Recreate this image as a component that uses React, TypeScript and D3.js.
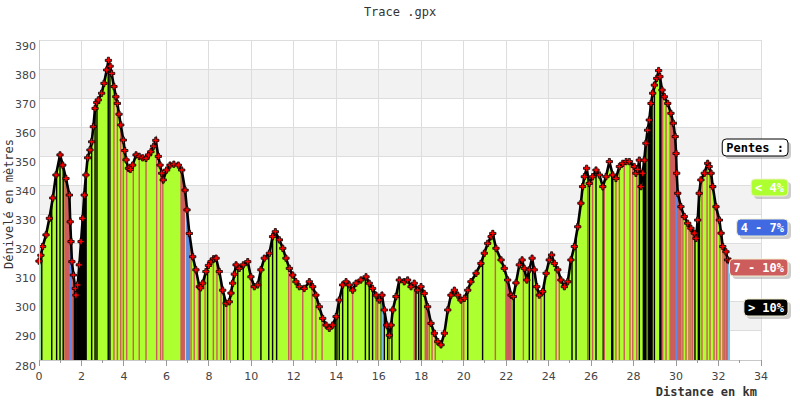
import React, { useEffect, useRef } from 'react';
import * as d3 from 'd3';

const KM = [
  0.0, 0.09, 0.17, 0.33, 0.49, 0.65, 0.8, 0.99, 1.12, 1.27, 1.43, 1.47, 1.51, 1.55, 1.62, 1.71,
  1.74, 1.82, 1.9, 1.98, 2.06, 2.13, 2.21, 2.29, 2.4, 2.48, 2.56, 2.64, 2.72, 2.79, 2.95, 3.06,
  3.19, 3.27, 3.35, 3.42, 3.53, 3.62, 3.69, 3.77, 3.85, 3.97, 4.04, 4.1, 4.21, 4.3, 4.41, 4.57,
  4.72, 4.88, 5.04, 5.16, 5.27, 5.4, 5.5, 5.62, 5.7, 5.78, 5.85, 6.01, 6.17, 6.35, 6.56, 6.72,
  6.88, 6.97, 7.08, 7.24, 7.39, 7.55, 7.61, 7.71, 7.86, 7.98, 8.1, 8.22, 8.34, 8.49, 8.65, 8.81,
  8.96, 9.04, 9.12, 9.2, 9.28, 9.43, 9.62, 9.83, 9.98, 10.14, 10.3, 10.45, 10.61, 10.85, 11.0, 11.13,
  11.32, 11.48, 11.63, 11.79, 11.95, 12.1, 12.26, 12.49, 12.73, 12.89, 13.04, 13.2, 13.36, 13.52, 13.67, 13.83,
  13.99, 14.14, 14.3, 14.46, 14.61, 14.77, 14.93, 15.16, 15.4, 15.55, 15.71, 15.87, 16.03, 16.15, 16.26, 16.38,
  16.5, 16.58, 16.66, 16.81, 16.97, 17.2, 17.36, 17.52, 17.67, 17.83, 17.99, 18.14, 18.3, 18.46, 18.62, 18.78,
  18.93, 19.09, 19.25, 19.4, 19.56, 19.72, 19.87, 20.03, 20.19, 20.34, 20.58, 20.81, 20.97, 21.13, 21.29, 21.37,
  21.52, 21.76, 21.91, 22.07, 22.23, 22.34, 22.46, 22.62, 22.75, 22.85, 22.97, 23.09, 23.22, 23.32, 23.44, 23.56,
  23.72, 23.88, 24.03, 24.14, 24.27, 24.43, 24.58, 24.74, 24.9, 25.05, 25.21, 25.37, 25.52, 25.6, 25.68, 25.79,
  25.91, 26.07, 26.23, 26.39, 26.55, 26.7, 26.86, 27.02, 27.17, 27.33, 27.49, 27.65, 27.8, 28.03, 28.11, 28.19,
  28.27, 28.35, 28.43, 28.5, 28.58, 28.66, 28.74, 28.82, 28.9, 28.98, 29.09, 29.18, 29.24, 29.34, 29.45, 29.61,
  29.76, 29.87, 29.96, 30.0, 30.03, 30.08, 30.23, 30.39, 30.55, 30.7, 30.86, 30.94, 31.02, 31.09, 31.17, 31.33,
  31.49, 31.56, 31.65, 31.73, 31.88, 32.04, 32.12, 32.2, 32.35, 32.43, 32.54,
];

const ELEV = [
  314, 316, 319, 323, 328.7, 335.7, 343.6, 350.5, 347, 342.4, 336.7, 327.5, 320.7, 313.8, 309.2, 304.6,
  302.3, 305.8, 312.7, 320.7, 328.7, 336.7, 343.6, 349.5, 352.2, 355, 360.2, 366.5, 368.5, 369.4, 371.7, 375.1,
  379.7, 383, 381, 378.5, 374, 370.5, 368.2, 364.5, 360.8, 355.6, 352, 348.8, 345.9, 345.5, 347, 350.5,
  350, 349.5, 349.3, 350.5, 351.6, 353.5, 355.5, 350, 347, 344.2, 341.9, 345.3, 347, 347.3, 347, 345.3,
  338.4, 331.6, 323.5, 315.5, 311, 305.2, 304.8, 306.4, 310.4, 312.5, 313.8, 314.8, 315, 310.4, 304, 299.5,
  300, 303, 306.4, 309.5, 312.7, 311.5, 312.7, 313.8, 308.6, 305.2, 305.8, 311, 315, 316.7, 322.4, 324.1,
  321.3, 318.4, 315, 311.5, 309.2, 306.9, 305.2, 304.6, 306.9, 305.2, 302.3, 298.3, 294.3, 292, 290.9, 292,
  294.9, 300.6, 305.8, 306.9, 305.8, 304, 306.4, 307.5, 308.6, 306.4, 304.6, 302.3, 300.6, 302.3, 297.2, 292,
  288.5, 292, 297.2, 301.8, 307.5, 306.9, 307.5, 305.2, 306.4, 304, 305.2, 302.9, 298.3, 292.6, 289.2, 286.3,
  285.2, 289.2, 297.2, 302.3, 304, 302.3, 300.6, 301.2, 304, 306.9, 309.8, 313.2, 316.7, 320.1, 322.4, 323.5,
  318.4, 314.4, 311.5, 307.5, 302.3, 301.8, 306.5, 312.7, 314.4, 311.5, 307.5, 311, 315, 311, 305.2, 302.3,
  303.5, 309.8, 314.4, 316.1, 313.2, 311, 307.5, 305.2, 306.9, 314.4, 319, 325.8, 333.9, 339.6, 343, 345.9,
  340.7, 343, 345.3, 343.6, 339.6, 343, 348.2, 343.6, 342.4, 346.5, 347.6, 348.2, 348.2, 346.5, 344.2, 345.5,
  348.7, 339.6, 344.2, 348.7, 354.5, 359, 362.5, 368.2, 371.7, 374.5, 376.8, 379.5, 377.4, 372.8, 370.5, 368.2,
  364.8, 361.4, 356.8, 351, 344.2, 337.3, 332.7, 329.3, 327, 325.3, 323.6, 321.8, 328.1, 337.3, 341.9, 344.2,
  347.6, 346.5, 344.2, 339.6, 332.7, 328.1, 323.6, 319, 317.2, 314.4, 314,
];

// slope stripes: [start km, end km, category]
// g < 4%, b 4-7%, r 7-10%, k > 10%, l = light blue
const STRIPES: [number, number, string][] = [
  [0, 0.04, 'l'], [0.13, 0.13, 'k'], [0.6, 0.6, 'k'], [0.83, 0.83, 'k'], [0.99, 0.99, 'k'], [1.14, 1.14, 'k'],
  [1.22, 1.43, 'r'], [1.46, 1.54, 'b'], [1.59, 1.59, 'r'], [1.66, 1.74, 'k'], [1.78, 2.22, 'k'],
  [2.48, 2.48, 'k'], [2.64, 2.64, 'k'], [2.73, 2.73, 'k'], [3.26, 3.26, 'k'], [3.34, 3.34, 'k'],
  [3.53, 3.53, 'r'], [3.69, 3.69, 'r'], [3.85, 3.85, 'r'], [3.97, 3.97, 'r'], [4.13, 4.13, 'r'],
  [4.44, 4.44, 'r'], [4.72, 4.72, 'r'], [5.04, 5.04, 'r'], [5.54, 5.54, 'r'], [5.73, 5.73, 'r'],
  [5.83, 5.83, 'r'], [6.69, 6.84, 'r'], [6.96, 7.08, 'b'], [7.16, 7.16, 'r'], [7.31, 7.31, 'r'],
  [7.51, 7.51, 'r'], [7.58, 7.58, 'k'], [7.82, 7.82, 'r'], [7.94, 7.94, 'k'], [8.21, 8.21, 'r'],
  [8.38, 8.38, 'r'], [8.57, 8.57, 'r'], [8.7, 8.7, 'k'], [8.84, 8.84, 'r'], [8.99, 8.99, 'r'],
  [9.36, 9.36, 'k'], [9.62, 9.62, 'k'], [9.98, 9.98, 'r'], [10.45, 10.45, 'k'], [10.82, 10.82, 'k'],
  [11.0, 11.0, 'k'], [11.19, 11.19, 'k'], [11.76, 11.76, 'r'], [11.87, 11.87, 'r'], [12.42, 12.42, 'r'],
  [12.86, 12.86, 'r'], [13.04, 13.04, 'r'], [13.33, 13.33, 'r'], [13.95, 13.95, 'k'], [14.03, 14.03, 'k'],
  [14.14, 14.14, 'k'], [14.3, 14.3, 'k'], [14.54, 14.54, 'k'], [14.77, 14.77, 'r'], [15.37, 15.37, 'k'],
  [15.55, 15.55, 'k'], [15.71, 15.71, 'k'], [15.87, 15.87, 'r'], [15.95, 15.95, 'r'], [16.12, 16.12, 'k'],
  [16.15, 16.17, 'l'], [16.26, 16.26, 'k'], [16.42, 16.42, 'k'], [16.5, 16.5, 'r'], [16.62, 16.62, 'k'],
  [16.97, 16.97, 'k'], [17.67, 17.67, 'r'], [17.75, 17.75, 'k'], [17.88, 17.88, 'k'], [17.99, 17.99, 'k'],
  [18.19, 18.3, 'r'], [18.38, 18.38, 'r'], [18.51, 18.51, 'r'], [18.66, 18.66, 'r'], [19.91, 19.91, 'r'],
  [20.0, 20.0, 'r'], [20.19, 20.19, 'k'], [20.89, 20.89, 'k'], [21.49, 21.49, 'r'], [21.99, 22.23, 'r'],
  [22.34, 22.34, 'k'], [22.38, 22.38, 'k'], [22.81, 22.81, 'r'], [23.09, 23.09, 'k'], [23.25, 23.25, 'k'],
  [23.4, 23.4, 'r'], [23.64, 23.64, 'r'], [23.8, 23.8, 'k'], [24.35, 24.35, 'r'], [24.5, 24.5, 'r'],
  [25.1, 25.1, 'k'], [25.29, 25.29, 'k'], [25.84, 25.84, 'r'], [25.92, 25.92, 'k'], [26.07, 26.07, 'r'],
  [26.23, 26.23, 'k'], [26.57, 26.57, 'k'], [26.62, 26.62, 'r'], [26.97, 27.02, 'k'], [27.17, 27.17, 'r'],
  [27.33, 27.33, 'r'], [27.56, 27.56, 'r'], [27.83, 27.83, 'r'], [27.96, 27.96, 'r'], [28.15, 28.15, 'r'],
  [28.27, 28.27, 'k'], [28.46, 28.58, 'k'], [28.69, 28.69, 'k'], [28.74, 28.87, 'k'], [28.98, 28.98, 'k'],
  [29.24, 29.29, 'k'], [29.37, 29.37, 'r'], [29.53, 29.53, 'r'], [29.72, 29.72, 'r'], [29.76, 30.0, 'r'],
  [30.0, 30.02, 'b'], [30.08, 30.23, 'r'], [30.32, 30.32, 'r'], [30.47, 30.47, 'r'], [30.61, 30.61, 'r'],
  [30.7, 30.7, 'r'], [30.78, 30.78, 'r'], [30.89, 30.89, 'k'], [31.05, 31.1, 'k'], [31.22, 31.22, 'r'],
  [31.46, 31.46, 'r'], [31.6, 31.6, 'r'], [31.79, 31.79, 'r'], [31.91, 31.91, 'r'], [32.07, 32.07, 'r'],
  [32.21, 32.21, 'r'], [32.27, 32.27, 'r'], [32.35, 32.46, 'r'], [32.47, 32.54, 'l'],
];

const Y_TICKS = [280, 290, 300, 310, 320, 330, 340, 350, 360, 370, 380, 390];
const X_TICKS = [0, 2, 4, 6, 8, 10, 12, 14, 16, 18, 20, 22, 24, 26, 28, 30, 32, 34];
const LEGEND_LABELS = ['Pentes :', '< 4%', '4 - 7%', '7 - 10%', '> 10%'];
const LEGEND_COLORS = ['#ffffff', '#adff2f', '#4169e1', '#cd5c5c', '#000000'];
const TITLE = 'Trace .gpx';
const X_TITLE = 'Distance en km';
const Y_TITLE = 'Dénivelé en mètres';

const CAT_COLOR: Record<string, string> = {
  g: '#adff2f', b: '#5f8ae8', r: '#cd5c5c', k: '#000000', l: '#7ec0ea',
};

export default function App() {
  const ref = useRef<SVGSVGElement>(null);
  useEffect(() => {
    const svg = d3.select(ref.current);
    svg.selectAll('*').remove();
    const x = d3.scaleLinear().domain([0, 34]).range([39, 761]);
    const y = d3.scaleLinear().domain([280, 390]).range([360, 40]);
    const mono = 'DejaVu Sans Mono, monospace';
    const sans = 'DejaVu Sans, sans-serif';

    // bands
    const bands = Y_TICKS.filter((v) => v < 390 && (v % 20) === 10);
    svg.append('g').selectAll('rect').data(bands).join('rect')
      .attr('x', x(0)).attr('width', x(34) - x(0))
      .attr('y', (d) => y(d + 10)).attr('height', (d) => y(d) - y(d + 10))
      .attr('fill', '#f2f2f2');

    // grid
    const grid = svg.append('g').attr('stroke', '#dddddd').attr('stroke-width', 1).attr('shape-rendering', 'crispEdges');
    grid.selectAll('line.h').data(Y_TICKS).join('line').attr('class', 'h')
      .attr('x1', x(0)).attr('x2', x(34)).attr('y1', (d) => y(d)).attr('y2', (d) => y(d));
    grid.selectAll('line.v').data(X_TICKS).join('line').attr('class', 'v')
      .attr('x1', (d) => x(d)).attr('x2', (d) => x(d)).attr('y1', y(390)).attr('y2', y(280));

    const pts = KM.map((k, i) => [k, ELEV[i]] as [number, number]);
    const area = d3.area<[number, number]>().x((d) => x(d[0])).y0(y(280)).y1((d) => y(d[1]));
    const line = d3.line<[number, number]>().x((d) => x(d[0])).y((d) => y(d[1]));

    const defs = svg.append('defs');
    defs.append('clipPath').attr('id', 'profileClip').append('path').attr('d', area(pts)!);

    svg.append('path').attr('d', area(pts)!).attr('fill', CAT_COLOR.g);

    svg.append('g').attr('clip-path', 'url(#profileClip)')
      .selectAll('rect').data(STRIPES).join('rect')
      .attr('x', (d) => x(d[0]) - 0.7)
      .attr('width', (d) => Math.max(1.4, x(d[1]) - x(d[0]) + 1.4))
      .attr('y', y(390)).attr('height', y(280) - y(390))
      .attr('fill', (d) => CAT_COLOR[d[2]]);

    svg.append('path').attr('d', line(pts)!).attr('fill', 'none').attr('stroke', '#000').attr('stroke-width', 2.6);
    const sym = d3.symbol().type(d3.symbolCross).size(22);
    svg.append('g').selectAll('path').data(pts).join('path')
      .attr('transform', (d) => `translate(${x(d[0])},${y(d[1])})`)
      .attr('d', sym()!)
      .attr('fill', '#ff0000').attr('stroke', '#000').attr('stroke-width', 0.8);

    // axes
    const ax = svg.append('g').attr('stroke', '#c8c8c8').attr('shape-rendering', 'crispEdges');
    ax.append('line').attr('x1', x(0)).attr('x2', x(0)).attr('y1', y(390)).attr('y2', y(280));
    ax.append('line').attr('x1', x(0)).attr('x2', x(34)).attr('y1', y(280)).attr('y2', y(280));
    ax.selectAll('line.t').data(d3.range(0, 35, 1)).join('line').attr('class', 't')
      .attr('x1', (d) => x(d)).attr('x2', (d) => x(d))
      .attr('y1', y(280)).attr('y2', (d) => y(280) + (d % 2 === 0 ? 6 : 3))
      .attr('stroke', '#999');

    svg.append('g').selectAll('text').data(Y_TICKS).join('text')
      .attr('x', 36).attr('y', (d) => y(d) + 9.5)
      .attr('text-anchor', 'end').attr('font-family', sans).attr('font-size', 11).attr('fill', '#444')
      .text((d) => d);
    svg.append('g').selectAll('text').data(X_TICKS).join('text')
      .attr('x', (d) => x(d)).attr('y', 380)
      .attr('text-anchor', 'middle').attr('font-family', sans).attr('font-size', 11).attr('fill', '#444')
      .text((d) => d);

    svg.append('text').attr('x', 400).attr('y', 16).attr('text-anchor', 'middle')
      .attr('font-family', mono).attr('font-size', 12).attr('fill', '#333').text(TITLE);
    svg.append('text').attr('x', 757).attr('y', 396).attr('text-anchor', 'end')
      .attr('font-family', mono).attr('font-size', 12).attr('font-weight', 'bold').attr('fill', '#333').text(X_TITLE);
    svg.append('text').attr('transform', 'translate(13,204) rotate(-90)').attr('text-anchor', 'middle')
      .attr('font-family', mono).attr('font-size', 12).attr('fill', '#333').text(Y_TITLE);

    // legend
    const lg = svg.append('g');
    const tops = [139, 179, 219, 259, 299];
    LEGEND_LABELS.forEach((lab, i) => {
      const w = lab.length * 7.22 + 8;
      const xr = 788;
      const g = lg.append('g');
      g.append('rect').attr('x', xr - w + 3).attr('y', tops[i] + 3).attr('width', w).attr('height', 17)
        .attr('rx', 4).attr('fill', '#aaaaaa').attr('opacity', 0.6);
      g.append('rect').attr('x', xr - w).attr('y', tops[i]).attr('width', w).attr('height', 17)
        .attr('rx', 4).attr('fill', LEGEND_COLORS[i])
        .attr('stroke', i === 0 ? '#000' : '#f3efcf').attr('stroke-width', 1);
      g.append('text').attr('x', xr - w / 2).attr('y', tops[i] + 13).attr('text-anchor', 'middle')
        .attr('font-family', mono).attr('font-size', 12).attr('font-weight', 'bold')
        .attr('fill', i === 0 ? '#000' : '#fff').text(lab);
    });
  }, []);
  return (
    <svg ref={ref} width={800} height={400}
      style={{ position: 'absolute', left: 0, top: 0, background: '#fff' }} />
  );
}
